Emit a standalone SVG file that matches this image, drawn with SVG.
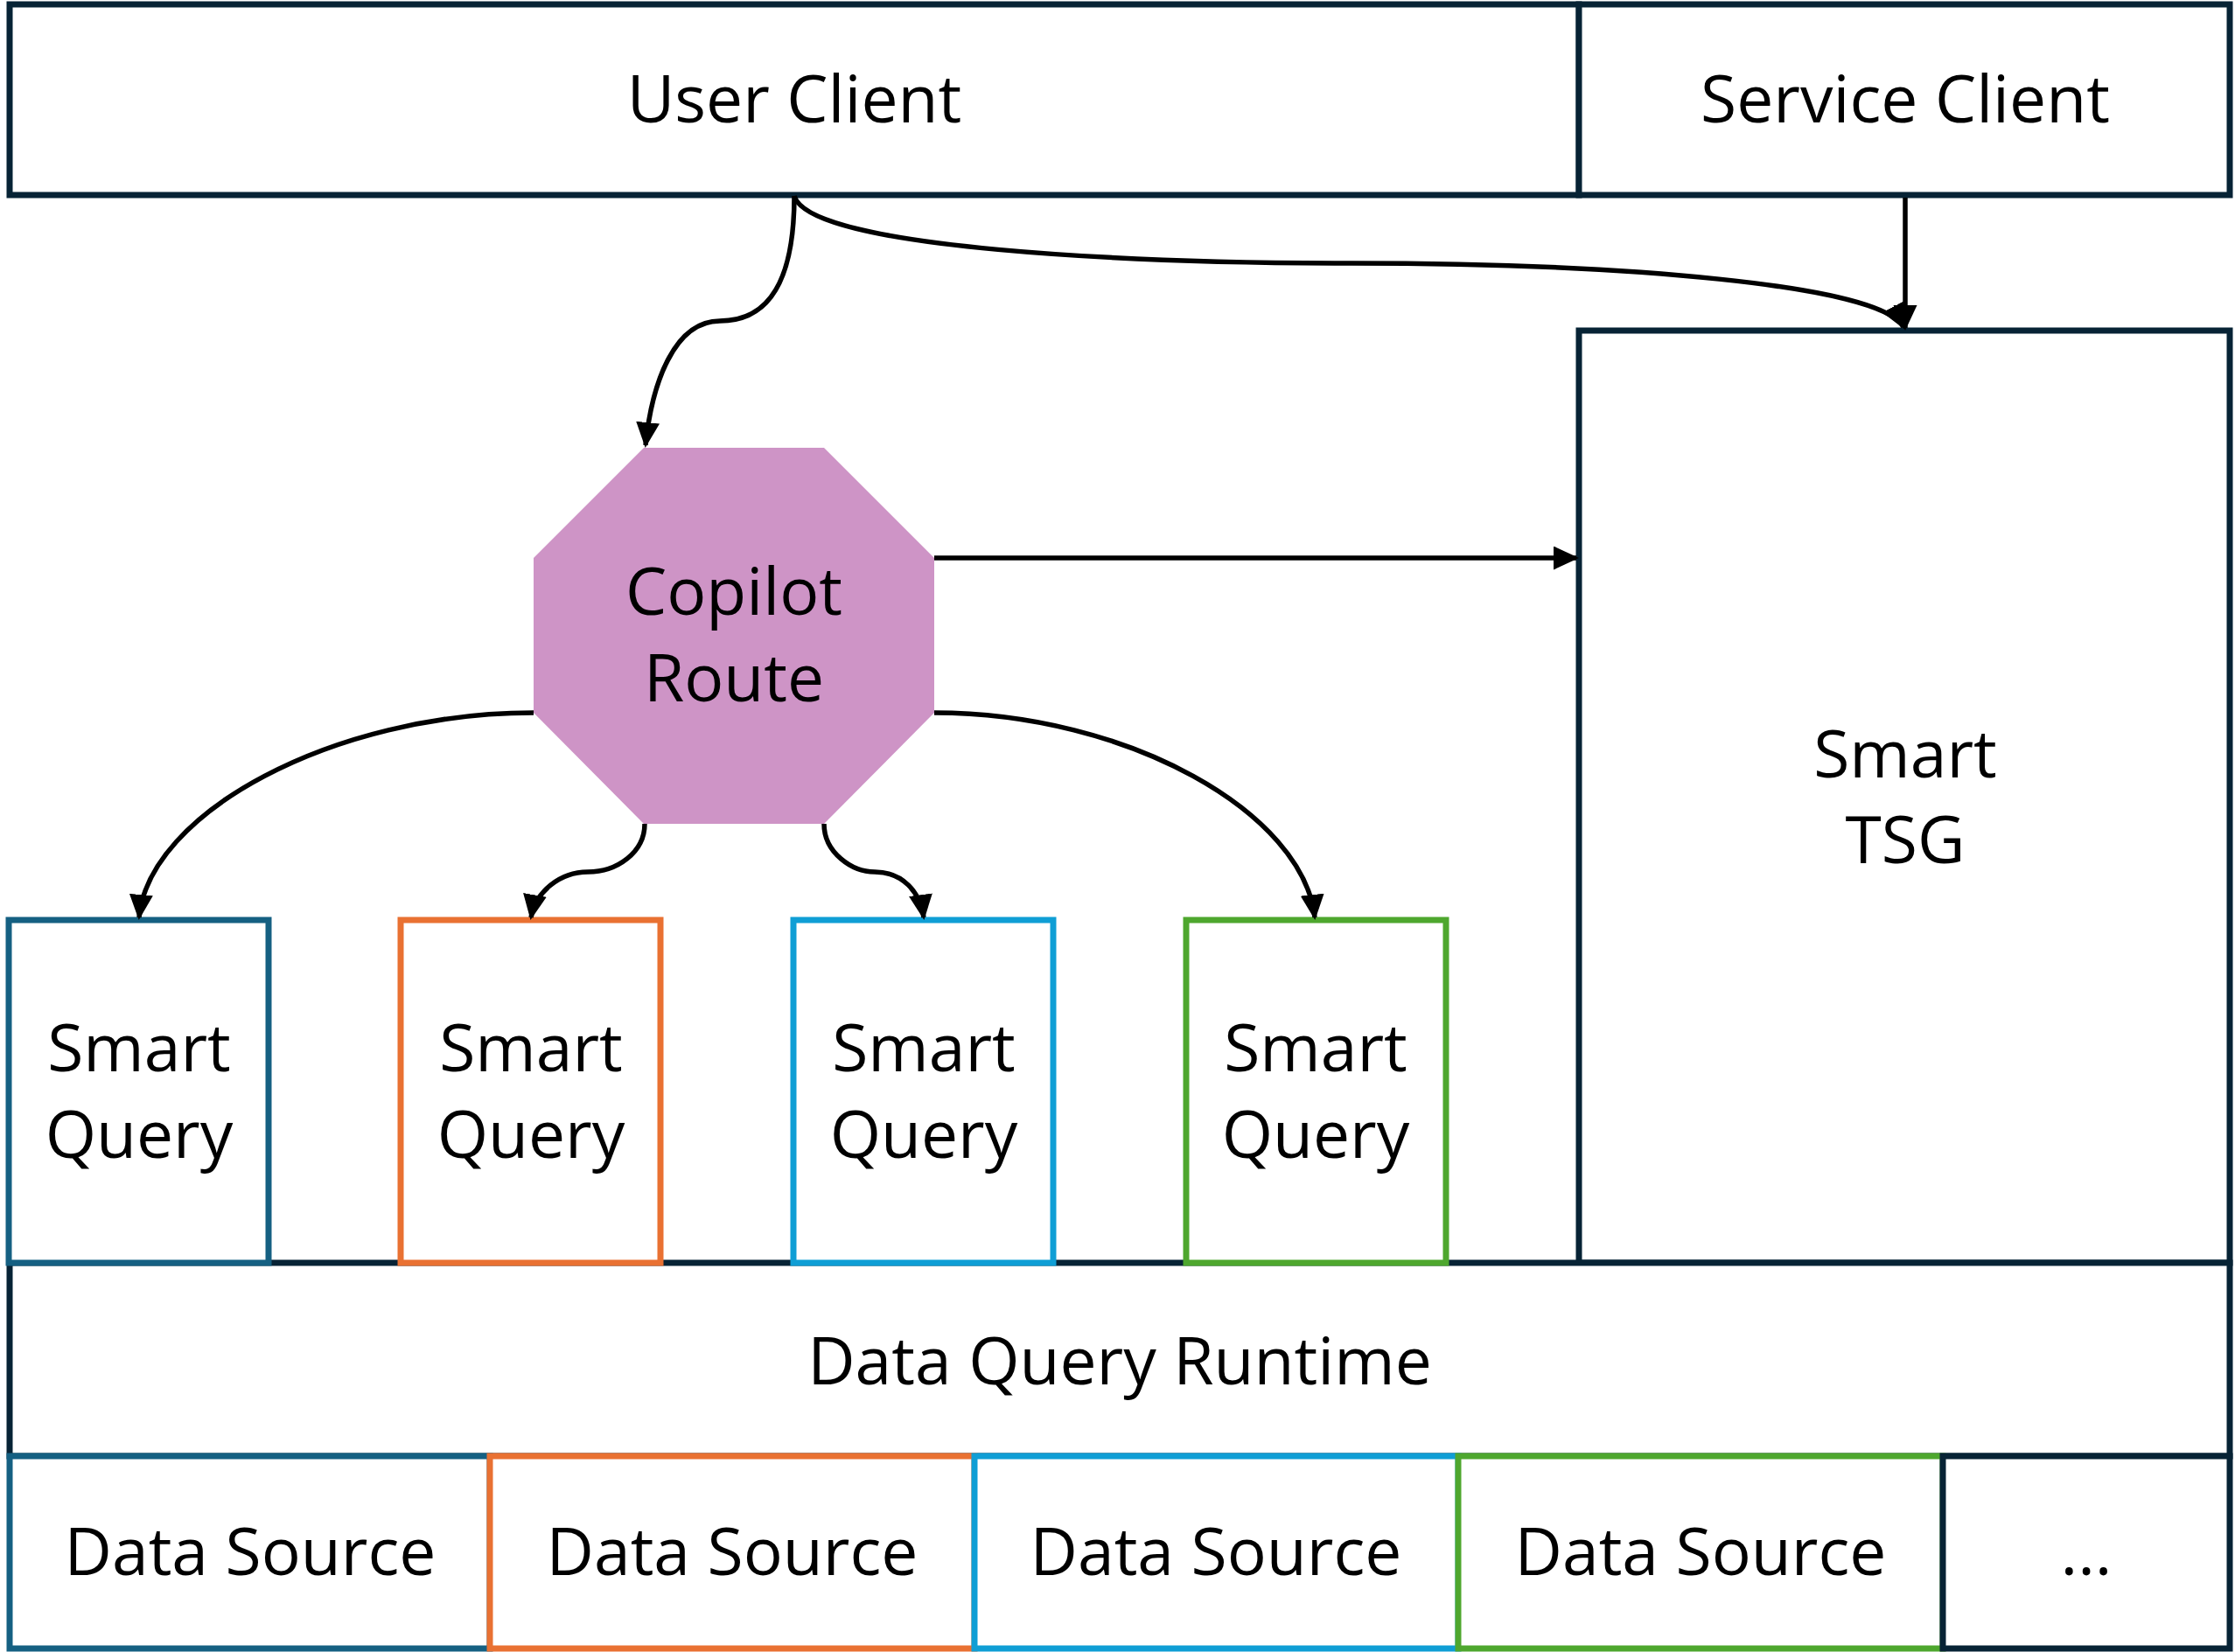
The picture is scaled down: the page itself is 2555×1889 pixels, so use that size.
<svg xmlns="http://www.w3.org/2000/svg" width="2555" height="1889" viewBox="0 0 2555 1889">
<style>
.box{fill:#ffffff;stroke-width:7}
.dark{stroke:#072335}
.b1{stroke:#156082}
.b2{stroke:#E97132}
.b3{stroke:#0F9ED5}
.b4{stroke:#4EA72E}
text{font-family:"Open Sans","Liberation Sans",sans-serif;font-size:75px;fill:#000000;text-anchor:middle}
.conn{fill:none;stroke:#000000;stroke-width:5.5}
</style>
<defs>
<marker id="arr" markerUnits="userSpaceOnUse" markerWidth="30" markerHeight="28" refX="26" refY="13.5" orient="auto">
<path d="M0,0 L29,13.5 L0,27 Z" fill="#000000"/>
</marker>
</defs>
<rect width="2555" height="1889" fill="#ffffff"/>

<g id="user-client">
<rect class="box dark" x="11" y="5" width="1794" height="218"/>
<text x="908" y="140">User Client</text>
</g>
<g id="service-client">
<rect class="box dark" x="1805" y="5" width="744" height="218"/>
<text x="2178" y="140">Service Client</text>
</g>
<g id="smart-tsg">
<rect class="box dark" x="1805" y="378" width="744" height="1066"/>
<text x="2178" y="889">Smart</text>
<text x="2178" y="987">TSG</text>
</g>
<g id="data-query-runtime">
<rect class="box dark" x="11" y="1444" width="2538" height="221"/>
<text x="1280" y="1583">Data Query Runtime</text>
</g>
<g id="copilot-route">
<polygon points="736,512 942,512 1068,638 1068,815 942,942 736,942 610,815 610,638" fill="#CE94C6"/>
<text x="839" y="703">Copilot</text>
<text x="839" y="802">Route</text>
</g>
<g id="smart-query-1">
<rect class="box b1" x="10" y="1052" width="297" height="392"/>
<text x="159" y="1225">Smart</text>
<text x="159" y="1324">Query</text>
</g>
<g id="smart-query-2">
<rect class="box b2" x="458" y="1052" width="297" height="392"/>
<text x="607" y="1225">Smart</text>
<text x="607" y="1324">Query</text>
</g>
<g id="smart-query-3">
<rect class="box b3" x="907" y="1052" width="297" height="392"/>
<text x="1056" y="1225">Smart</text>
<text x="1056" y="1324">Query</text>
</g>
<g id="smart-query-4">
<rect class="box b4" x="1356" y="1052" width="297" height="392"/>
<text x="1504" y="1225">Smart</text>
<text x="1504" y="1324">Query</text>
</g>
<g id="data-source-1">
<rect class="box b1" x="11" y="1665" width="549" height="220"/>
<text x="286" y="1801">Data Source</text>
</g>
<g id="data-source-2">
<rect class="box b2" x="560" y="1665" width="554" height="220"/>
<text x="837" y="1801">Data Source</text>
</g>
<g id="data-source-3">
<rect class="box b3" x="1114" y="1665" width="553" height="220"/>
<text x="1390" y="1801">Data Source</text>
</g>
<g id="data-source-4">
<rect class="box b4" x="1667" y="1665" width="554" height="220"/>
<text x="1944" y="1801">Data Source</text>
</g>
<g id="data-source-more">
<rect class="box dark" x="2221" y="1665" width="328" height="220"/>
<text x="2385" y="1801">...</text>
</g>

<g id="connectors">
<path class="conn" marker-end="url(#arr)" d="M908,224 C908,320 880,367 823,367 C770,367 745,440 738,509"/>
<path class="conn" marker-end="url(#arr)" d="M908,224 C925,285 1300,301 1545,301 C1850,301 2150,325 2176,374"/>
<path class="conn" marker-end="url(#arr)" d="M2178,226 L2178,375"/>
<path class="conn" marker-end="url(#arr)" d="M1068,638 L1802,638"/>
<path class="conn" marker-end="url(#arr)" d="M610,815 C380,815 170,930 159,1049"/>
<path class="conn" marker-end="url(#arr)" d="M737,942 C737,975 705,997 672,997 C640,997 612,1020 607,1049"/>
<path class="conn" marker-end="url(#arr)" d="M942,942 C942,975 974,997 1000,997 C1032,997 1052,1020 1056,1049"/>
<path class="conn" marker-end="url(#arr)" d="M1068,815 C1290,815 1490,930 1503,1049"/>
</g>
</svg>
